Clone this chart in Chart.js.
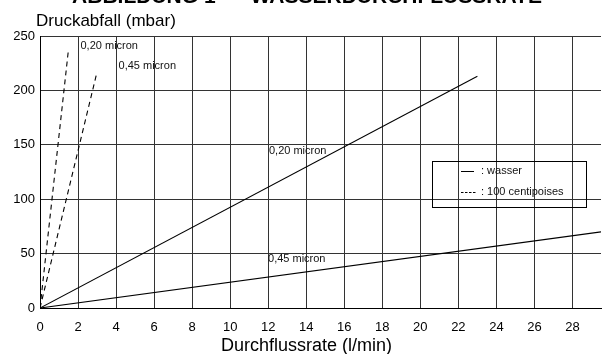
<!DOCTYPE html>
<html>
<head>
<meta charset="utf-8">
<script src="https://cdn.jsdelivr.net/npm/chart.js@4"></script>
<style>
  html, body { margin: 0; padding: 0; background: #fff; }
  #wrap { width: 606px; height: 354px; position: relative; }
</style>
</head>
<body>
<div id="wrap"><canvas id="c" width="606" height="354"></canvas></div>
<script>
// ---- data ----
const titleText = "ABBILDUNG 1  –  WASSERDURCHFLUSSRATE";
const yTitle = "Druckabfall (mbar)";
const xTitle = "Durchflussrate (l/min)";
const seriesNames = ["wasser 0,20 micron", "wasser 0,45 micron", "100 centipoises 0,20 micron", "100 centipoises 0,45 micron"];
const water020X = [0, 23];
const water020Y = [0, 213];
const water045X = [0, 29.5];
const water045Y = [0, 70];
const visc020X = [0, 1.5];
const visc020Y = [0, 238];
const visc045X = [0, 3.0];
const visc045Y = [0, 217];
const xMin = 0, xMax = 29.5, xStep = 2;
const yMin = 0, yMax = 250, yStep = 50;
const labelTexts = ["0,20 micron", "0,45 micron", "0,20 micron", "0,45 micron"];
const labelX = [2.13, 4.13, 12.04, 11.99];
const labelY = [240.8, 222.7, 144.3, 44.8];
const legendTexts = [": wasser", ": 100 centipoises"];

const FONT = "'Liberation Sans', Arial, Helvetica, sans-serif";
const toPts = (xs, ys) => xs.map((x, i) => ({ x: x, y: ys[i] }));

const mk = (name, xs, ys, dashed) => ({
  label: name,
  data: toPts(xs, ys),
  borderColor: '#000',
  backgroundColor: '#000',
  borderWidth: 1.1,
  borderDash: dashed ? [5, 4] : [],
  pointRadius: 0,
  showLine: true,
  fill: false,
  tension: 0
});

const overlay = {
  id: 'overlay',
  afterDraw(chart) {
    const ctx = chart.ctx;
    const xs = chart.scales.x, ys = chart.scales.y;
    ctx.save();
    // series labels
    ctx.fillStyle = '#111';
    ctx.font = "11px " + FONT;
    ctx.textAlign = 'left';
    ctx.textBaseline = 'middle';
    labelTexts.forEach((t, i) => {
      ctx.fillText(t, xs.getPixelForValue(labelX[i]), ys.getPixelForValue(labelY[i]));
    });
    // legend box
    ctx.strokeStyle = '#000';
    ctx.lineWidth = 1;
    ctx.strokeRect(432.5, 161.5, 154, 46);
    ctx.beginPath();
    ctx.setLineDash([]);
    ctx.moveTo(461, 171.5); ctx.lineTo(474, 171.5);
    ctx.stroke();
    ctx.beginPath();
    ctx.setLineDash([2.5, 1.5]);
    ctx.moveTo(461, 192.5); ctx.lineTo(476, 192.5);
    ctx.stroke();
    ctx.setLineDash([]);
    ctx.fillText(legendTexts[0], 481, 171);
    ctx.fillText(legendTexts[1], 481, 192);
    // axis titles
    ctx.fillStyle = '#000';
    ctx.font = "17px " + FONT;
    ctx.textBaseline = 'alphabetic';
    ctx.textAlign = 'left';
    ctx.fillText(yTitle, 36, 26);
    ctx.font = "18px " + FONT;
    ctx.textAlign = 'center';
    ctx.fillText(xTitle, 306.5, 351);
    // clipped main title
    ctx.font = "bold 21px " + FONT;
    ctx.fillText(titleText, 307, 3);
    ctx.restore();
  }
};

new Chart(document.getElementById('c'), {
  type: 'scatter',
  data: {
    datasets: [
      mk(seriesNames[0], water020X, water020Y, false),
      mk(seriesNames[1], water045X, water045Y, false),
      mk(seriesNames[2], visc020X, visc020Y, true),
      mk(seriesNames[3], visc045X, visc045Y, true)
    ]
  },
  options: {
    responsive: false,
    animation: false,
    layout: { padding: { left: 0, top: 36, right: 5, bottom: 0 } },
    plugins: { legend: { display: false }, tooltip: { enabled: false }, title: { display: false } },
    scales: {
      x: {
        type: 'linear',
        min: xMin, max: xMax,
        afterFit(s) { s.height = 46; },
        ticks: { stepSize: xStep, includeBounds: false, color: '#000', padding: 12,
                 font: { family: FONT, size: 13 }, maxRotation: 0 },
        grid: { color: '#333', lineWidth: 1, drawTicks: false },
        border: { color: '#000', width: 1 }
      },
      y: {
        type: 'linear',
        min: yMin, max: yMax,
        afterFit(s) { s.width = 40; },
        ticks: { stepSize: yStep, color: '#000', padding: 5,
                 font: { family: FONT, size: 13 } },
        grid: { color: '#333', lineWidth: 1, drawTicks: false },
        border: { color: '#000', width: 1 }
      }
    }
  },
  plugins: [overlay]
});
</script>
</body>
</html>
